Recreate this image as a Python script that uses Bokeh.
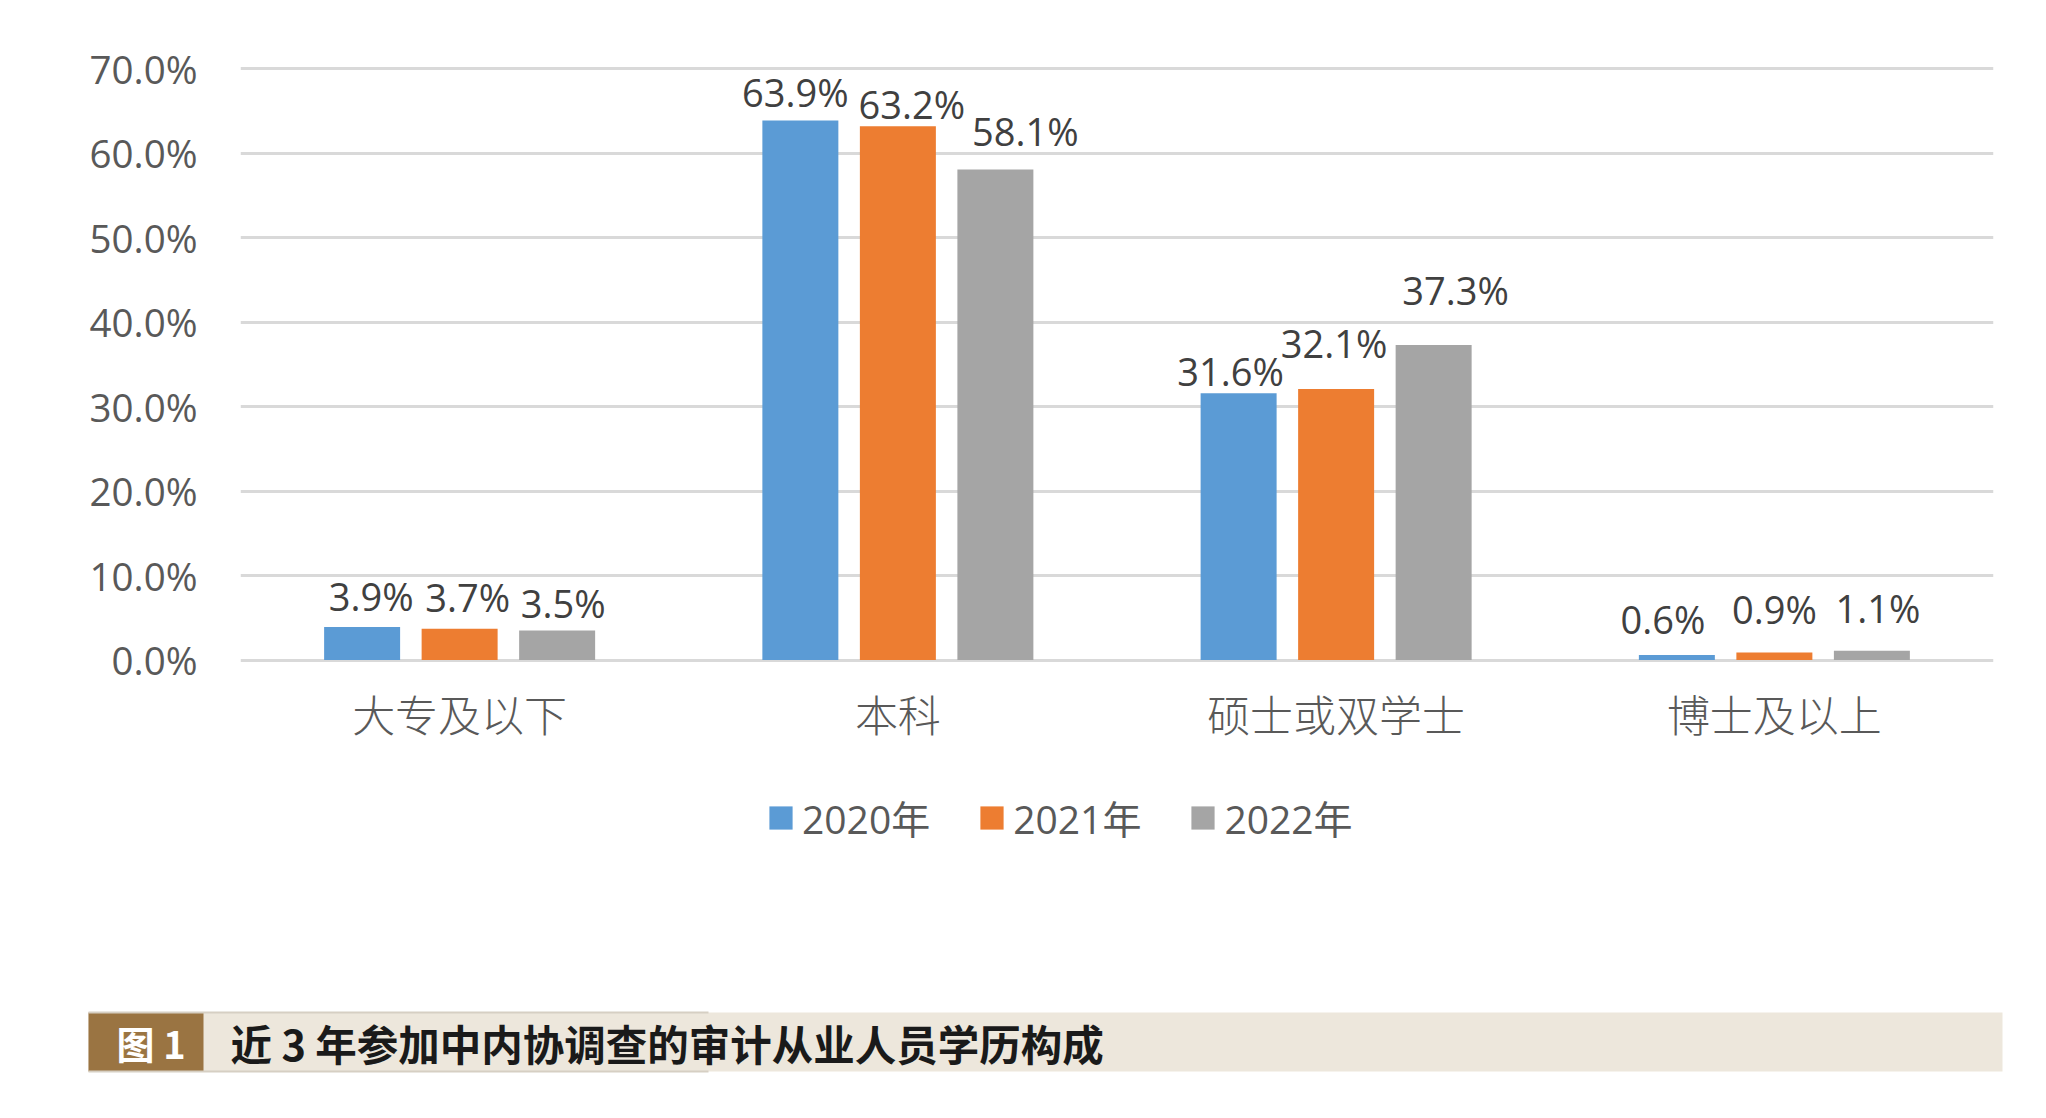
from bokeh.plotting import figure
from bokeh.models import (ColumnDataSource, FactorRange, Range1d, FixedTicker,
                          PrintfTickFormatter, Legend, LegendItem)
from bokeh.transform import dodge
from bokeh.layouts import column
from bokeh.embed import file_html
from bokeh.resources import INLINE
from bokeh.core.properties import value

# ---------------- data ----------------
categories = ["大专及以下", "本科", "硕士或双学士", "博士及以上"]
years = ["2020年", "2021年", "2022年"]
share_2020 = [3.9, 63.9, 31.6, 0.6]
share_2021 = [3.7, 63.2, 32.1, 0.9]
share_2022 = [3.5, 58.1, 37.3, 1.1]
y_ticks = [0, 10, 20, 30, 40, 50, 60, 70]
caption_tag = "图 1"
caption_text = "近 3 年参加中内协调查的审计从业人员学历构成"

# ---------------- styling ----------------
colors = ["#5B9BD5", "#ED7D31", "#A5A5A5"]
bar_offsets = [-0.2225, 0.0, 0.2225]
bar_width = 0.1734
# label nudges in screen pixels (dx right, dy = baseline height above bar top)
label_dx = [[9, -5, -8, -14], [8, 14, -2, 0], [6, 30, 22, 6]]
label_dy = [[17, 13.5, 8, 21], [17.5, 8, 31, 29], [13, 24, 41, 28]]
BASELINE_FIX = 14.5   # renderer puts the alphabetic baseline this far below the anchor

LATIN = "'Open Sans', 'Noto Sans CJK SC'"
CJK_LIGHT = "'Noto Sans CJK SC Light', 'Noto Sans CJK SC'"
W = 2030

p = figure(x_range=FactorRange(factors=categories, range_padding=0),
           y_range=Range1d(-1, 71),
           frame_width=1753, frame_height=608,
           min_border_left=240, min_border_right=37,
           min_border_top=60, min_border_bottom=102,
           output_backend="svg", toolbar_location=None, frame_align=False)

series = [share_2020, share_2021, share_2022]
for i, vals in enumerate(series):
    src = ColumnDataSource(dict(
        cat=categories, val=vals,
        lab=[f"{v:.1f}%" for v in vals],
        dx=label_dx[i], dy=[-(d + BASELINE_FIX) for d in label_dy[i]],
    ))
    p.vbar(x=dodge("cat", bar_offsets[i], range=p.x_range), top="val", bottom=0,
           width=bar_width, source=src, fill_color=colors[i], line_color=None)
    p.text(x=dodge("cat", bar_offsets[i], range=p.x_range), y="val", text="lab",
           x_offset="dx", y_offset="dy", source=src,
           text_align="center", text_baseline="alphabetic",
           text_font=value(LATIN), text_font_size="38px", text_color="#404040")

# axes & grid
p.yaxis.ticker = FixedTicker(ticks=y_ticks)
p.yaxis.formatter = PrintfTickFormatter(format="%.1f%%")
p.yaxis.axis_line_color = None
p.yaxis.major_tick_line_color = None
p.yaxis.minor_tick_line_color = None
p.yaxis.major_tick_out = 0
p.yaxis.major_label_standoff = 43
p.yaxis.major_label_text_font = LATIN
p.yaxis.major_label_text_font_size = "38.5px"
p.yaxis.major_label_text_color = "#595959"

p.xaxis.axis_line_color = None
p.xaxis.major_tick_line_color = None
p.xaxis.minor_tick_line_color = None
p.xaxis.major_tick_out = 0
p.xaxis.major_label_standoff = 13
p.xaxis.major_label_text_font = CJK_LIGHT
p.xaxis.major_label_text_font_size = "43px"
p.xaxis.major_label_text_color = "#595959"

p.xgrid.grid_line_color = None
p.ygrid.ticker = FixedTicker(ticks=y_ticks)
p.ygrid.grid_line_color = "#D9D9D9"
p.ygrid.grid_line_width = 3
p.outline_line_color = None

# ---------------- legend + caption strip (page pixel coordinates) ----------------
TOP, BOTTOM = 776, 1102
c = figure(width=W, height=BOTTOM - TOP, x_range=Range1d(0, W), y_range=Range1d(BOTTOM, TOP),
           x_axis_type=None, y_axis_type=None, min_border=0,
           output_backend="svg", toolbar_location=None, frame_align=False)
c.grid.visible = False
c.outline_line_color = None

# legend keys (proxies kept outside the visible area)
keys = [c.vbar(x=[-100], top=[TOP], bottom=[TOP], width=1,
               fill_color=colors[i], line_color=None) for i in range(3)]
legend = Legend(items=[LegendItem(label=years[i], renderers=[keys[i]]) for i in range(3)],
                orientation="horizontal", location=(766, 251),
                glyph_width=29, glyph_height=29, label_standoff=7, spacing=47,
                padding=0, margin=0, border_line_color=None, background_fill_alpha=0,
                label_text_font=LATIN, label_text_font_size="39px",
                label_text_color="#595959")
c.add_layout(legend)

c.quad(left=[88], right=[2002], top=[1018], bottom=[1077], fill_color="#EDE7DC", line_color=None)
c.quad(left=[88], right=[203], top=[1018], bottom=[1077], fill_color="#9A7442", line_color=None)
c.segment(x0=[88, 88], y0=[1018, 1077], x1=[708, 708], y1=[1018, 1077],
          line_color="#D6CFC3", line_width=2)
c.text(x=[116], y=[1048], text=[caption_tag], text_align="left", text_baseline="middle",
       text_font=value("Noto Sans CJK SC"), text_font_style="bold", text_font_size="38px",
       text_color="white")
c.text(x=[230], y=[1048], text=[caption_text], text_align="left", text_baseline="middle",
       text_font=value("Noto Sans CJK SC"), text_font_style="bold", text_font_size="41.5px",
       text_color="#1A1A1A")

layout = column(p, c, spacing=0)
open("out.html", "w").write(file_html(layout, INLINE))
